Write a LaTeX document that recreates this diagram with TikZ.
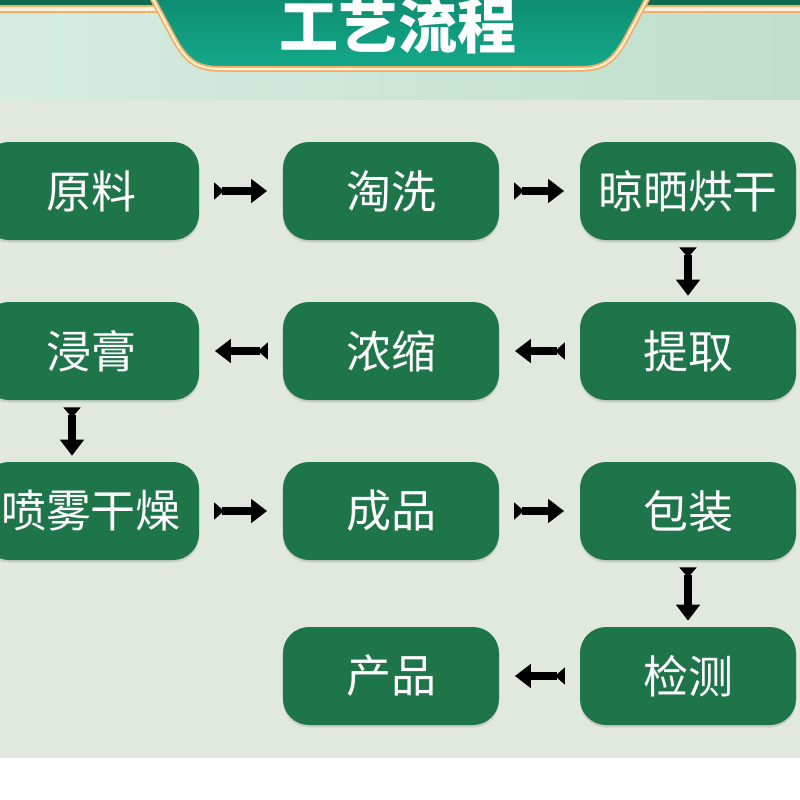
\documentclass[tikz,border=0pt]{standalone}
\usepackage{fontspec}
\newfontfamily\cjk{Noto Sans CJK SC}
\usetikzlibrary{calc,arrows.meta,shadows}
\definecolor{boxgreen}{HTML}{1F754A}
\definecolor{panel}{HTML}{E1E8DE}
\definecolor{mintl}{HTML}{D6ECE1}
\definecolor{mintd}{HTML}{C0DFCD}
\definecolor{bandgreen}{HTML}{0C6B4E}
\definecolor{gold}{HTML}{F3B064}
\definecolor{cream}{HTML}{FFF1DC}
\definecolor{teald}{HTML}{0E8A6E}
\definecolor{teall}{HTML}{14A98B}

\begin{document}
\begin{tikzpicture}[x=0.25mm, y=-0.25mm,
  proc/.style={fill=boxgreen, rounded corners=6.5mm, minimum width=54mm, minimum height=24.5mm,
    text=white, font=\cjk\fontsize{32}{36}\selectfont,
    drop shadow={opacity=0.25, shadow xshift=0mm, shadow yshift=-0.6mm}},
  flow/.style={line width=1.8mm, {Triangle[reversed,length=2.5mm,width=4.2mm]}-{Triangle[length=4mm,width=5.8mm]},
    shorten <=3.7mm, shorten >=3.9mm},
  vflow/.style={flow, shorten <=1.8mm, shorten >=1.5mm}]
  \useasboundingbox (0,0) rectangle (800,800);
  \clip (0,0) rectangle (800,800);
  % background
  \fill[white] (0,0) rectangle (800,800);
  \shade[left color=mintl, right color=mintd] (0,0) rectangle (800,100);
  \fill[panel] (0,100) rectangle (800,758);
  \fill[bandgreen] (0,0) rectangle (800,6);
  \draw[gold, line width=0.4mm, fill=cream] (-5,6) rectangle (805,12);
  % banner
  \draw[gold, line width=0.45mm, double=cream, double distance=0.5mm, top color=teald, bottom color=teall]
    (148,-10) -- (172,35) .. controls (188,66) and (200,69) .. (225,69) -- (575,69)
    .. controls (600,69) and (612,66) .. (628,35) -- (652,-10);
  \node[font=\cjk\bfseries\fontsize{42}{46}\selectfont, text=white] (title) at (398,26) {工艺流程};
  % steps
  \node[proc] (yl) at (91,191) {原料};
  \node[proc] (tx) at (391,191) {淘洗};
  \node[proc] (lh) at (688,191) {晾晒烘干};
  \node[proc] (jg) at (91,351) {浸膏};
  \node[proc] (ns) at (391,351) {浓缩};
  \node[proc] (tq) at (688,351) {提取};
  \node[proc] (pw) at (91,511) {喷雾干燥};
  \node[proc] (cp) at (391,511) {成品};
  \node[proc] (bz) at (688,511) {包装};
  \node[proc] (chp) at (391,676) {产品};
  \node[proc] (jc) at (688,676) {检测};
  % arrows
  \draw[flow] (yl) -- (tx);
  \draw[flow] (tx) -- (lh);
  \draw[vflow] (lh) -- (tq);
  \draw[flow] (tq) -- (ns);
  \draw[flow] (ns) -- (jg);
  \draw[vflow] ($(jg.south)+(-19,0)$) -- ($(pw.north)+(-19,0)$);
  \draw[flow] (pw) -- (cp);
  \draw[flow] (cp) -- (bz);
  \draw[vflow] (bz) -- (jc);
  \draw[flow] (jc) -- (chp);
\end{tikzpicture}
\end{document}
